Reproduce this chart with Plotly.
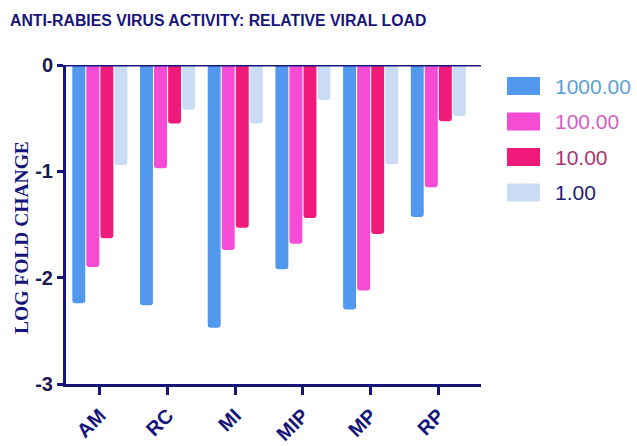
import plotly.graph_objects as go

categories = ["AM", "RC", "MI", "MIP", "MP", "RP"]
series_names = ["1000.00", "100.00", "10.00", "1.00"]
values_1000 = [-2.24, -2.26, -2.47, -1.92, -2.30, -1.43]
values_100 = [-1.90, -0.97, -1.74, -1.68, -2.12, -1.15]
values_10 = [-1.63, -0.55, -1.53, -1.44, -1.59, -0.53]
values_1 = [-0.94, -0.42, -0.55, -0.33, -0.93, -0.48]
y_ticks = [0, -1, -2, -3]

series_values = [values_1000, values_100, values_10, values_1]
bar_colors = ["#5198ee", "#f64bd4", "#ef1a7a", "#c9dcf4"]
legend_text_colors = ["#5f9fd0", "#d262c4", "#a8356f", "#1b1f6e"]
NAVY = "#16167a"

W, H = 637, 446
ML, MR, MT, MB = 66, 156, 65, 62
pw = W - ML - MR
ph = H - MT - MB

def px_x(p):
    return (p - ML) / pw

def px_y(p):
    return 1 - (p - MT) / ph

fig = go.Figure()
for name, vals, col in zip(series_names, series_values, bar_colors):
    fig.add_trace(go.Bar(x=categories, y=vals, name=name, marker_color=col,
                         marker_line_width=0, showlegend=False))

# zero line across the top
fig.add_shape(type="line", xref="paper", yref="y", x0=0, x1=1, y0=0, y1=0,
              line=dict(color=NAVY, width=3), layer="above")

# manual legend
for i, (name, col, tcol) in enumerate(zip(series_names, bar_colors, legend_text_colors)):
    cy = 86 + i * 35.5
    fig.add_shape(type="rect", xref="paper", yref="paper",
                  x0=px_x(507), x1=px_x(540), y0=px_y(cy + 9), y1=px_y(cy - 9),
                  fillcolor=col, line_width=0)
    fig.add_annotation(xref="paper", yref="paper", x=px_x(553), y=px_y(cy),
                       text=name, showarrow=False, xanchor="left", yanchor="middle",
                       font=dict(family="Liberation Sans, Arial", size=21, color=tcol))

# title
fig.add_annotation(xref="paper", yref="paper", x=px_x(8), y=px_y(20),
                   text="<b>ANTI-RABIES VIRUS ACTIVITY: RELATIVE VIRAL LOAD</b>",
                   showarrow=False, xanchor="left", yanchor="middle",
                   font=dict(family="Liberation Sans, Arial", size=15.8, color=NAVY))

# y-axis title
fig.add_annotation(xref="paper", yref="paper", x=px_x(21), y=px_y(238),
                   text="<b>LOG FOLD CHANGE</b>", textangle=-90,
                   showarrow=False, xanchor="center", yanchor="middle",
                   font=dict(family="Liberation Serif, Times New Roman", size=19.5, color=NAVY))

fig.update_layout(
    width=W, height=H,
    margin=dict(l=ML, r=MR, t=MT, b=MB, autoexpand=False),
    paper_bgcolor="white", plot_bgcolor="white",
    barmode="group", bargap=0.17, bargroupgap=0.08,
    barcornerradius=3,
    xaxis=dict(range=[-0.5, 5.63], showline=True, linecolor=NAVY, linewidth=3,
               ticks="outside", ticklen=8, tickwidth=3, tickcolor=NAVY,
               tickangle=-45, showgrid=False, automargin=False, ticklabelstandoff=1,
               tickvals=categories, ticktext=[f"<b>{c}</b>" for c in categories],
               tickfont=dict(family="Liberation Sans, Arial", size=20, color=NAVY)),
    yaxis=dict(range=[-3, 0], showline=True, linecolor=NAVY, linewidth=3,
               tickvals=y_ticks, ticktext=[f"<b>{v}</b>" for v in y_ticks],
               ticks="outside", ticklen=6, tickwidth=3, tickcolor=NAVY,
               showgrid=False, zeroline=False, automargin=False,
               tickfont=dict(family="Liberation Sans, Arial", size=20, color="#1a1a50")),
)

fig.write_html("out.html", config={"displayModeBar": False},
               post_script="document.body.style.margin='0';")
